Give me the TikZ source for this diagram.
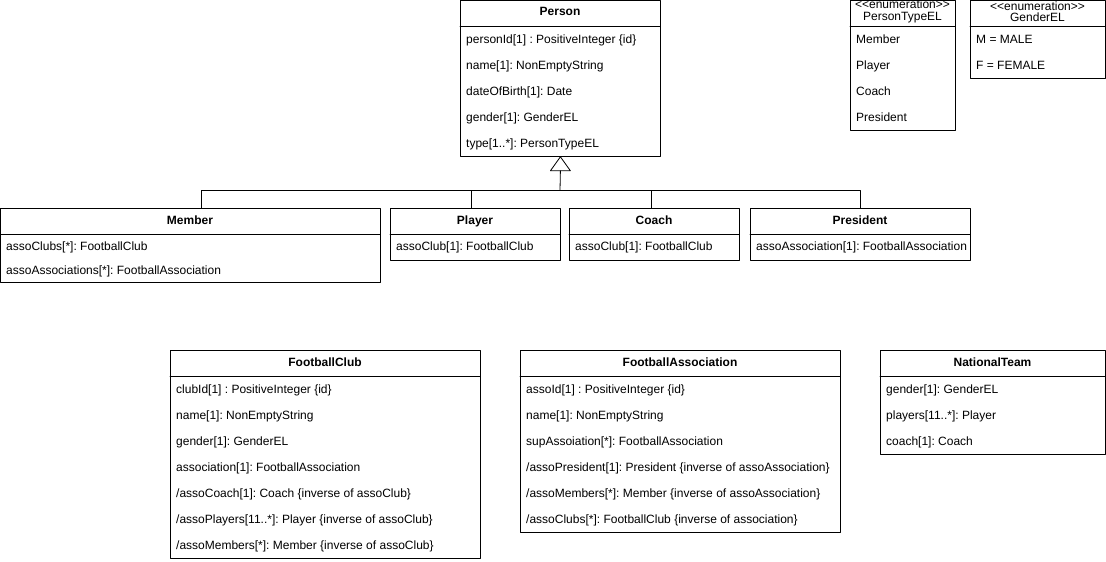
\documentclass[tikz,border=0pt]{standalone}
\usepackage{fontspec}
\setmainfont{Liberation Sans}
\frenchspacing
\tikzset{
	cls/.style={draw,line width=0.8pt,anchor=north west,inner sep=0pt},
	ttl/.style={font=\fontsize{12}{12.5}\selectfont\bfseries,inner sep=0pt,text height=9pt,text depth=3pt},
	enumttl/.style={inner sep=0pt,align=center,font=\fontsize{12}{11.5}\selectfont},
	attr/.style={anchor=west,inner sep=0pt,text height=9pt,text depth=3pt},
}
\begin{document}
\begin{tikzpicture}[x=1pt,y=-1pt,line join=round,line cap=round,font=\fontsize{12}{12.5}\selectfont]
		\useasboundingbox (0,0) rectangle (1106,562);
		% class boxes
		\node[cls,minimum width=200,minimum height=156] (person) at (460,0) {};
		\node[cls,minimum width=105,minimum height=130] (ptype) at (850,0) {};
		\node[cls,minimum width=135,minimum height=78] (gender) at (970,0) {};
		\node[cls,minimum width=380,minimum height=74] (member) at (0,208) {};
		\node[cls,minimum width=170,minimum height=52] (player) at (390,208) {};
		\node[cls,minimum width=170,minimum height=52] (coach) at (569,208) {};
		\node[cls,minimum width=220,minimum height=52] (president) at (750,208) {};
		\node[cls,minimum width=310,minimum height=208] (club) at (170,350) {};
		\node[cls,minimum width=320,minimum height=182] (asso) at (520,350) {};
		\node[cls,minimum width=225,minimum height=104] (team) at (880,350) {};
		\foreach \c/\w in {person/200,ptype/105,gender/135,member/380,player/170,coach/170,president/220,club/310,asso/320,team/225}
			\draw[line width=0.8pt] (\c.north west) ++(0,26) -- ++(\w,0);
		% titles
		\node[ttl] (personT) at (560,13) {Person};
		\node[enumttl] (ptypeT) at (902.5,11.5) {<\kern0pt<enumeration>\kern0pt>\\PersonTypeEL};
		\node[enumttl] (genderT) at (1037.5,11.5) {<\kern0pt<enumeration>\kern0pt>\\GenderEL};
		\node[ttl] (memberT) at (190,221) {Member};
		\node[ttl] (playerT) at (475,221) {Player};
		\node[ttl] (coachT) at (654,221) {Coach};
		\node[ttl] (presidentT) at (860,221) {President};
		\node[ttl] (clubT) at (325,363) {FootballClub};
		\node[ttl] (assoT) at (680,363) {FootballAssociation};
		\node[ttl] (teamT) at (992.5,363) {NationalTeam};
		% attributes
		\foreach \t [count=\i] in {personId[1] : PositiveInteger \{id\},name[1]: NonEmptyString,dateOfBirth[1]: Date,gender[1]: GenderEL,type[1..*]: PersonTypeEL}
			\node[attr] (person-\i) at (466,{14+26*\i}) {\t};
		\foreach \t [count=\i] in {Member,Player,Coach,President}
			\node[attr] (ptype-\i) at (856,{14+26*\i}) {\t};
		\foreach \t [count=\i] in {M = MALE,F = FEMALE}
			\node[attr] (gender-\i) at (976,{14+26*\i}) {\t};
		\foreach \t [count=\i] in {assoClubs[*]: FootballClub,assoAssociations[*]: FootballAssociation}
			\node[attr] (member-\i) at (6,{223+24*\i}) {\t};
		\node[attr] (player-1) at (396,247) {assoClub[1]: FootballClub};
		\node[attr] (coach-1) at (575,247) {assoClub[1]: FootballClub};
		\node[attr] (president-1) at (756,247) {assoAssociation[1]: FootballAssociation};
		\foreach \t [count=\i] in {clubId[1] : PositiveInteger \{id\},name[1]: NonEmptyString,gender[1]: GenderEL,association[1]: FootballAssociation,/assoCoach[1]: Coach \{inverse of assoClub\},/assoPlayers[11..*]: Player \{inverse of assoClub\},/assoMembers[*]: Member \{inverse of assoClub\}}
			\node[attr] (club-\i) at (176,{364+26*\i}) {\t};
		\foreach \t [count=\i] in {assoId[1] : PositiveInteger \{id\},name[1]: NonEmptyString,supAssoiation[*]: FootballAssociation,/assoPresident[1]: President \{inverse of assoAssociation\},/assoMembers[*]: Member \{inverse of assoAssociation\},/assoClubs[*]: FootballClub \{inverse of association\}}
			\node[attr] (asso-\i) at (526,{364+26*\i}) {\t};
		\foreach \t [count=\i] in {gender[1]: GenderEL,players[11..*]: Player,coach[1]: Coach}
			\node[attr] (team-\i) at (886,{364+26*\i}) {\t};
		% generalization
		\coordinate (bus) at (560,190.5);
		\draw[line width=0.8pt,fill=white] (person.south) -- ++(-10,14) -- ++(20,0) -- cycle;
		\draw[line width=0.8pt] ([yshift=-14pt]person.south) -- (bus);
		\draw[line width=0.8pt] ([xshift=11pt]member.north) |- (bus) -| (president.north);
		\draw[line width=0.8pt] ([xshift=-4pt]player.north) |- (bus);
		\draw[line width=0.8pt] ([xshift=-3pt]coach.north) |- (bus);
	\end{tikzpicture}
\end{document}
